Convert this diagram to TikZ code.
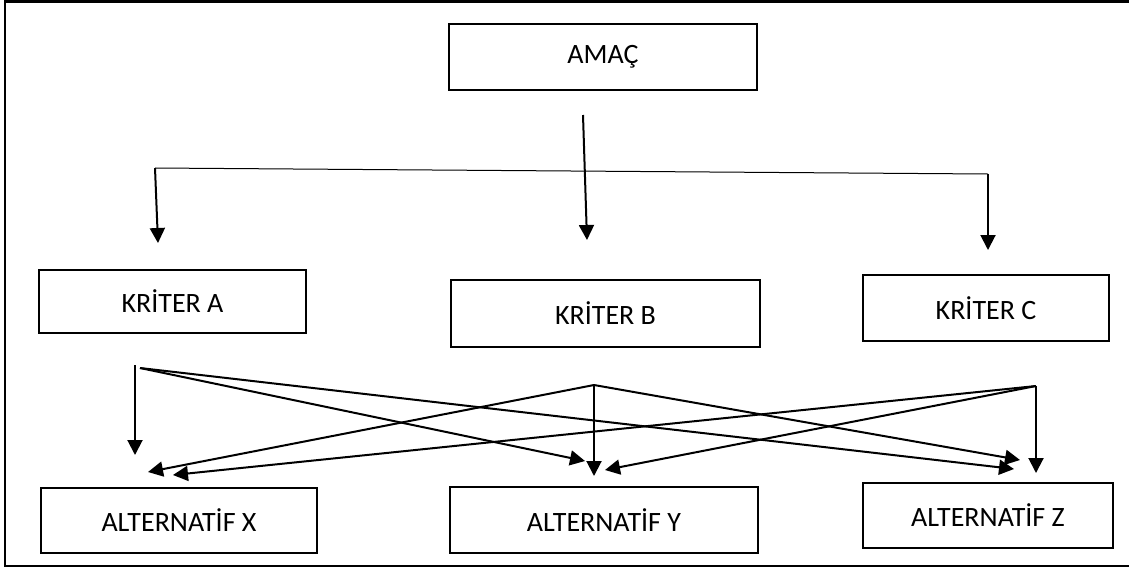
\documentclass[tikz,border=0pt]{standalone}
\usepackage{fontspec}
\setmainfont{Carlito}
\usepackage{tikz}
\usetikzlibrary{shapes,arrows.meta,positioning}

\begin{document}
\begin{tikzpicture}[x=0.5pt, y=-0.5pt,
    box/.style={draw, rectangle, line width=1pt, inner sep=0pt, font=\fontsize{14}{16}\selectfont},
    link/.style={line width=1pt, -{Triangle[length=7.5pt, width=7.5pt]}}]
    \useasboundingbox (0,0) rectangle (1129,568);
    % frame (open on the right)
    \draw[line width=1.2pt] (1129,1.5) -- (5,1.5) -- (5,566) -- (1129,566);

    % boxes
    \node[box, minimum width=154pt, minimum height=33pt] (amac) at (603,57) {AMAÇ};
    \node[box, minimum width=133.5pt, minimum height=31.5pt] (kritA) at (172.5,301.5) {KRİTER A};
    \node[box, minimum width=154.5pt, minimum height=33.5pt] (kritB) at (605.5,313.5) {KRİTER B};
    \node[box, minimum width=123pt, minimum height=33pt] (kritC) at (986,308) {KRİTER C};
    \node[box, minimum width=138pt, minimum height=32.5pt] (altX) at (179,520.5) {ALTERNATİF X};
    \node[box, minimum width=154pt, minimum height=33pt] (altY) at (604,520) {ALTERNATİF Y};
    \node[box, minimum width=125pt, minimum height=32.5pt] (altZ) at (988,515.5) {ALTERNATİF Z};

    % goal to criteria
    \coordinate (amacout) at (583,115);
    \coordinate (inB) at (587,240);
    \coordinate (barL) at (155,168);
    \coordinate (barR) at (988,174);
    \coordinate (inA) at (158,243);
    \coordinate (inC) at (988,250);
    \draw[link] (amacout) -- (inB);
    \draw[line width=0.5pt] (barL) -- (barR);
    \draw[link] (barL) -- (inA);
    \draw[link] (barR) -- (inC);

    % criteria to alternatives
    \coordinate (outA) at (135,365);
    \coordinate (outA2) at (140,368);
    \coordinate (outB) at (594,385);
    \coordinate (outC) at (1036,386);
    \coordinate (inXA) at (135,455);
    \coordinate (inXB) at (148,472);
    \coordinate (inXC) at (173,475);
    \coordinate (inYA) at (585,461);
    \coordinate (inYB) at (594,476);
    \coordinate (inYC) at (605,470);
    \coordinate (inZA) at (1014,469);
    \coordinate (inZB) at (1020,460);
    \coordinate (inZC) at (1036,473);
    \draw[link] (outA) -- (inXA);
    \draw[link] (outA2) -- (inYA);
    \draw[link] (outA2) -- (inZA);
    \draw[link] (outB) -- (inYB);
    \draw[link] (outB) -- (inXB);
    \draw[link] (outB) -- (inZB);
    \draw[link] (outC) -- (inZC);
    \draw[link] (outC) -- (inXC);
    \draw[link] (outC) -- (inYC);
\end{tikzpicture}
\end{document}
